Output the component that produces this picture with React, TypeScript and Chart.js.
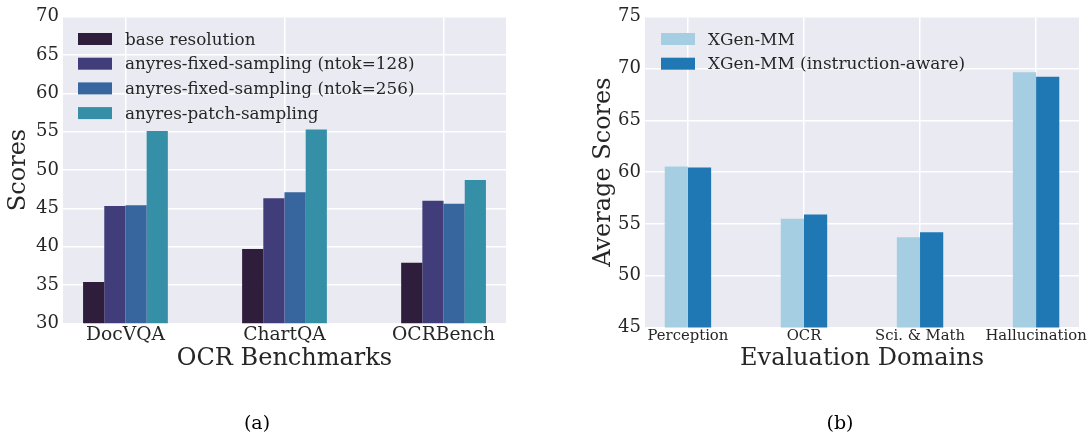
import React, { useEffect, useRef } from "react";
import { Chart, registerables } from "chart.js";

Chart.register(...registerables);

// ---------- data: (a) OCR benchmarks ----------
const ocrCategories = ["DocVQA", "ChartQA", "OCRBench"];
const ocrSeriesNames = [
  "base resolution",
  "anyres-fixed-sampling (ntok=128)",
  "anyres-fixed-sampling (ntok=256)",
  "anyres-patch-sampling",
];
const baseResolution = [35.4, 39.7, 37.9];
const fixedSampling128 = [45.3, 46.3, 46.0];
const fixedSampling256 = [45.4, 47.1, 45.6];
const patchSampling = [55.1, 55.3, 48.7];
const ocrYRange = [30, 70, 5];

// ---------- data: (b) evaluation domains ----------
const domainCategories = ["Perception", "OCR", "Sci. & Math", "Hallucination"];
const domainSeriesNames = ["XGen-MM", "XGen-MM (instruction-aware)"];
const xgenMM = [60.55, 55.5, 53.7, 69.65];
const xgenMMInstruction = [60.45, 55.9, 54.2, 69.2];
const domainYRange = [45, 75, 5];

// ---------- styles ----------
const FONT = "'DejaVu Serif', serif";
const TEXT = "#262626";
const BG = "#eaeaf2";
const GRID = "#ffffff";
const ocrColors = ["#2e1e3b", "#413d7b", "#37659e", "#348fa7"];
const domainColors = ["#a6cee3", "#1f78b4"];

const decorPlugin = {
  id: "decor",
  beforeDraw(chart: any) {
    const { ctx, chartArea: a } = chart;
    ctx.save();
    ctx.fillStyle = BG;
    ctx.fillRect(a.left, a.top, a.right - a.left, a.bottom - a.top);
    ctx.restore();
  },
  afterDraw(chart: any, _a: any, opts: any) {
    const { ctx, chartArea: a } = chart;
    ctx.save();
    ctx.font = `${opts.legendFontSize}px ${FONT}`;
    ctx.textAlign = "left";
    ctx.textBaseline = "alphabetic";
    chart.data.datasets.forEach((ds: any, i: number) => {
      const cy = a.top + opts.legendTop + i * opts.legendStep;
      const x = a.left + opts.legendLeft;
      ctx.fillStyle = ds.backgroundColor;
      ctx.fillRect(x, cy - 6, 34, 12);
      ctx.fillStyle = TEXT;
      ctx.fillText(ds.label, x + 47, cy + 5.5);
    });
    ctx.font = `19px ${FONT}`;
    ctx.fillStyle = "#000";
    ctx.textAlign = "center";
    ctx.fillText(opts.caption, opts.captionX, opts.captionY);
    ctx.restore();
  },
};

type Cfg = {
  categories: string[];
  names: string[];
  series: number[][];
  colors: string[];
  yRange: number[];
  xMin: number;
  xMax: number;
  catPct: number;
  xTickSize: number;
  xTickPad: number;
  xTitle: string;
  yTitle: string;
  yAxisWidth: number;
  yTitlePad: number;
  xTitlePad: number;
  padding: { left: number; right: number; top: number; bottom: number };
  legendFontSize: number;
  legendLeft: number;
  caption: string;
  captionX: number;
};

function buildConfig(c: Cfg): any {
  return {
    type: "bar",
    data: {
      datasets: c.series.map((vals, si) => ({
        label: c.names[si],
        data: vals.map((v, i) => ({ x: i, y: v })),
        backgroundColor: c.colors[si],
        borderWidth: 0,
        categoryPercentage: c.catPct,
        barPercentage: 1,
      })),
    },
    plugins: [decorPlugin],
    options: {
      animation: false,
      responsive: false,
      devicePixelRatio: 1,
      layout: { padding: c.padding },
      plugins: {
        legend: { display: false },
        tooltip: { enabled: false },
        decor: {
          legendFontSize: c.legendFontSize,
          legendTop: 22.3,
          legendStep: 24.7,
          legendLeft: c.legendLeft,
          caption: c.caption,
          captionX: c.captionX,
          captionY: 429,
        },
      },
      scales: {
        x: {
          type: "linear",
          min: c.xMin,
          max: c.xMax,
          offset: false,
          afterBuildTicks: (axis: any) => {
            axis.ticks = c.categories.map((_, i) => ({ value: i }));
          },
          afterFit: (axis: any) => {
            axis.height = 60;
            axis.paddingLeft = 0;
            axis.paddingRight = 0;
          },
          ticks: {
            autoSkip: false,
            maxRotation: 0,
            minRotation: 0,
            padding: c.xTickPad,
            color: TEXT,
            font: { family: FONT, size: c.xTickSize },
            callback: (v: any) => c.categories[v] ?? "",
          },
          grid: { color: GRID, lineWidth: 1.5, drawTicks: false, offset: false },
          border: { display: false },
          title: {
            display: true,
            text: c.xTitle,
            color: TEXT,
            font: { family: FONT, size: 24 },
            padding: { top: 0, bottom: c.xTitlePad },
          },
        },
        y: {
          min: c.yRange[0],
          max: c.yRange[1],
          afterFit: (axis: any) => {
            axis.width = c.yAxisWidth;
            axis.paddingTop = 0;
            axis.paddingBottom = 0;
          },
          ticks: {
            stepSize: c.yRange[2],
            padding: 4,
            color: TEXT,
            font: { family: FONT, size: 18 },
          },
          grid: { color: GRID, lineWidth: 1.5, drawTicks: false },
          border: { display: false },
          title: {
            display: true,
            text: c.yTitle,
            color: TEXT,
            font: { family: FONT, size: 24 },
            padding: { top: c.yTitlePad, bottom: 0 },
          },
        },
      },
    },
  };
}

function ChartCanvas({ cfg, left, width }: { cfg: Cfg; left: number; width: number }) {
  const ref = useRef<HTMLCanvasElement | null>(null);
  useEffect(() => {
    if (!ref.current) return;
    const chart = new Chart(ref.current, buildConfig(cfg));
    return () => chart.destroy();
  }, []);
  return (
    <canvas
      ref={ref}
      width={width}
      height={434}
      style={{ position: "absolute", left, top: 0, width, height: 434 }}
    />
  );
}

const ocrCfg: Cfg = {
  categories: ocrCategories,
  names: ocrSeriesNames,
  series: [baseResolution, fixedSampling128, fixedSampling256, patchSampling],
  colors: ocrColors,
  yRange: ocrYRange,
  xMin: -0.3927,
  xMax: 2.3927,
  catPct: 0.533,
  xTickSize: 18.7,
  xTickPad: 1,
  xTitle: "OCR Benchmarks",
  yTitle: "Scores",
  yAxisWidth: 63,
  yTitlePad: 4.6,
  xTitlePad: 9.9,
  padding: { left: 0, right: 39, top: 16.7, bottom: 50.7 },
  legendFontSize: 16.8,
  legendLeft: 15,
  caption: "(a)",
  captionX: 257,
};

const domainCfg: Cfg = {
  categories: domainCategories,
  names: domainSeriesNames,
  series: [xgenMM, xgenMMInstruction],
  colors: domainColors,
  yRange: domainYRange,
  xMin: -0.37,
  xMax: 3.37,
  catPct: 0.4,
  xTickSize: 14.8,
  xTickPad: 0,
  xTitle: "Evaluation Domains",
  yTitle: "Average Scores",
  yAxisWidth: 100,
  yTitlePad: 44,
  xTitlePad: 14.1,
  padding: { left: 0, right: 10, top: 16.7, bottom: 46.5 },
  legendFontSize: 16.9,
  legendLeft: 16,
  caption: "(b)",
  captionX: 295,
};

export default function App() {
  return (
    <div style={{ position: "absolute", left: 0, top: 0, width: 1089, height: 434, background: "#fff" }}>
      <ChartCanvas cfg={ocrCfg} left={0} width={545} />
      <ChartCanvas cfg={domainCfg} left={545} width={544} />
    </div>
  );
}
